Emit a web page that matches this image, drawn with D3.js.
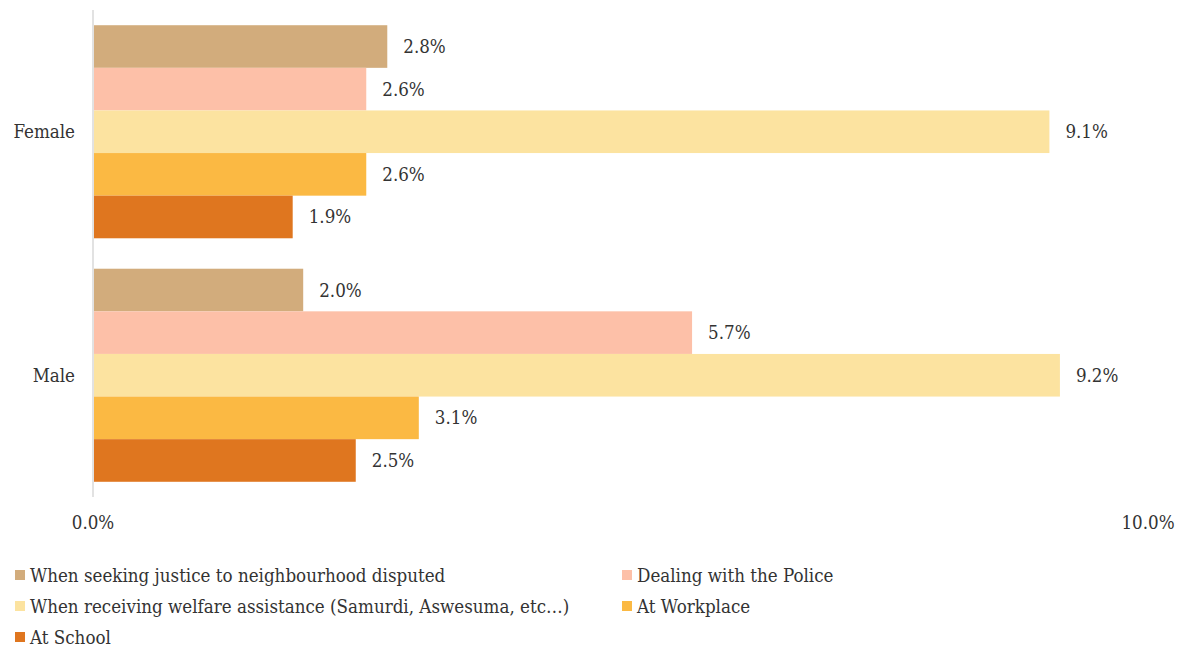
<!DOCTYPE html>
<html>
<head>
<meta charset="utf-8">
<script src="https://cdn.jsdelivr.net/npm/d3@7"></script>
<style>
  body { margin: 0; background: #fff; }
</style>
</head>
<body>
<svg id="chart" width="1186" height="651"></svg>
<script>
const categories = ["Female", "Male"];
const series = [
  "When seeking justice to neighbourhood disputed",
  "Dealing with the Police",
  "When receiving welfare assistance (Samurdi, Aswesuma, etc\u2026)",
  "At Workplace",
  "At School"
];
const female = [2.8, 2.6, 9.1, 2.6, 1.9];
const male = [2.0, 5.7, 9.2, 3.1, 2.5];
const xTicks = [0, 10];
const colors = ["#D2AC7C", "#FDC0A8", "#FCE3A0", "#FBB943", "#DF761F"];

const values = { Female: female, Male: male };
const svg = d3.select("#chart")
  .style("font-family", "'DejaVu Serif Condensed', 'DejaVu Serif', serif")
  .style("font-stretch", "condensed");
const fs = 18.6;
const textColor = "#333";

const x = d3.scaleLinear().domain([0, 10]).range([93, 1144]);
const y = d3.scaleBand().domain(categories).range([10, 497]).paddingInner(0.125).paddingOuter(0.0625);
const ySub = d3.scaleBand().domain(d3.range(series.length)).range([0, y.bandwidth()]);

// category axis line
svg.append("line")
  .attr("x1", x(0)).attr("x2", x(0))
  .attr("y1", 10).attr("y2", 497)
  .attr("stroke", "#d9d9d9").attr("stroke-width", 1.5);

const groups = svg.selectAll("g.cat")
  .data(categories)
  .join("g")
  .attr("class", "cat")
  .attr("transform", d => `translate(0,${y(d)})`);

groups.selectAll("rect")
  .data(c => values[c].map((v, i) => ({ v, i })))
  .join("rect")
  .attr("x", x(0) + 1)
  .attr("y", d => ySub(d.i))
  .attr("width", d => x(d.v) - x(0) - 1)
  .attr("height", ySub.bandwidth())
  .attr("fill", d => colors[d.i]);

groups.selectAll("text.val")
  .data(c => values[c].map((v, i) => ({ v, i })))
  .join("text")
  .attr("class", "val")
  .attr("x", d => x(d.v) + 16)
  .attr("y", d => ySub(d.i) + ySub.bandwidth() / 2)
  .attr("dy", "0.35em")
  .attr("font-size", fs)
  .attr("fill", textColor)
  .text(d => d.v.toFixed(1) + "%");

// category labels
svg.selectAll("text.cat")
  .data(categories)
  .join("text")
  .attr("class", "cat")
  .attr("x", 75)
  .attr("y", d => y(d) + y.bandwidth() / 2)
  .attr("dy", "0.35em")
  .attr("text-anchor", "end")
  .attr("font-size", fs)
  .attr("fill", textColor)
  .text(d => d);

// value axis tick labels
svg.selectAll("text.tick")
  .data(xTicks)
  .join("text")
  .attr("class", "tick")
  .attr("x", d => x(d) + (d === 0 ? 0 : 4))
  .attr("y", 529)
  .attr("text-anchor", "middle")
  .attr("font-size", fs)
  .attr("fill", textColor)
  .text(d => d.toFixed(1) + "%");

// legend
const legendPos = [[15, 575], [622, 575], [15, 606], [622, 606], [15, 637]];
const legend = svg.selectAll("g.legend")
  .data(series)
  .join("g")
  .attr("class", "legend")
  .attr("transform", (d, i) => `translate(${legendPos[i][0]},${legendPos[i][1]})`);
legend.append("rect")
  .attr("x", 0).attr("y", -5)
  .attr("width", 10).attr("height", 10)
  .attr("fill", (d, i) => colors[i]);
legend.append("text")
  .attr("x", 15)
  .attr("dy", "0.35em")
  .attr("font-size", fs)
  .attr("fill", textColor)
  .text(d => d);
</script>
</body>
</html>
